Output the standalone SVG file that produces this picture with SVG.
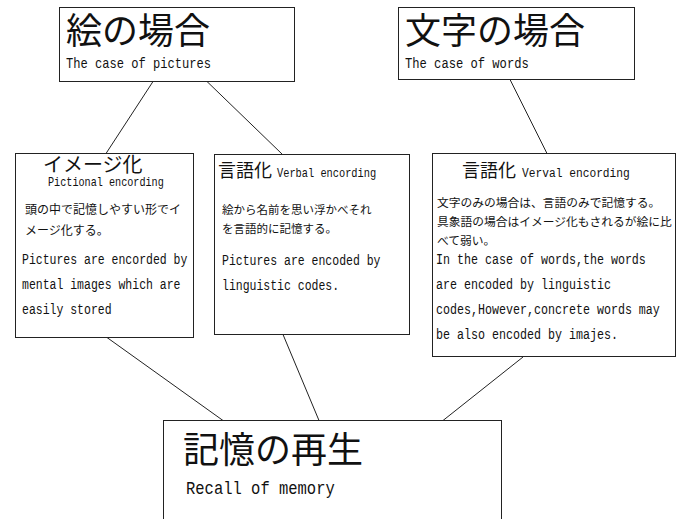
<svg xmlns="http://www.w3.org/2000/svg" width="678" height="519" viewBox="0 0 678 519">
<style>
.box{fill:#fff;stroke:#222;stroke-width:1}
.ln{stroke:#222;stroke-width:1;fill:none}
.jp{font-family:"Noto Sans CJK JP","Noto Sans CJK SC",sans-serif;fill:#111}
.en{font-family:"Liberation Mono","DejaVu Sans Mono",monospace;fill:#111}
.b{font-size:15.5px}
</style>
<rect width="678" height="519" fill="#fff"/>
<g id="connectors">
<line class="ln" x1="153" y1="81.5" x2="106" y2="153.5"/>
<line class="ln" x1="207" y1="81.5" x2="282" y2="154"/>
<line class="ln" x1="510" y1="79.5" x2="547" y2="153.5"/>
<line class="ln" x1="107" y1="337.5" x2="223" y2="420.5"/>
<line class="ln" x1="283" y1="334.5" x2="319" y2="420.5"/>
<line class="ln" x1="523" y1="357" x2="443" y2="420.5"/>
</g>
<g id="n_picture">
<rect class="box" x="59.5" y="7.5" width="235" height="74"/>
<text class="jp" x="66" y="43.5" font-size="36">絵の場合</text>
<text class="en" transform="translate(66,68) scale(0.806,1)" font-size="15">The case of pictures</text>
</g>
<g id="n_words">
<rect class="box" x="398.5" y="7.5" width="236" height="72"/>
<text class="jp" x="405" y="43.5" font-size="36">文字の場合</text>
<text class="en" transform="translate(405,68) scale(0.81,1)" font-size="15">The case of words</text>
</g>
<g id="n_image">
<rect class="box" x="15.5" y="153.5" width="178" height="184"/>
<text class="jp" x="43" y="172" font-size="20">イメージ化</text>
<text class="en" transform="translate(48,186) scale(0.814,1)" font-size="12.5">Pictional encording</text>
<text class="jp" x="25" y="214" font-size="12">頭の中で記憶しやすい形でイ</text>
<text class="jp" x="25" y="235" font-size="12">メージ化する。</text>
<text class="en b" transform="translate(22,264) scale(0.742,1)">Pictures are encorded by</text>
<text class="en b" transform="translate(22,289) scale(0.742,1)">mental images which are</text>
<text class="en b" transform="translate(22,314) scale(0.742,1)">easily stored</text>
</g>
<g id="n_verbal">
<rect class="box" x="214.5" y="154.5" width="195" height="180"/>
<text class="jp" x="218" y="177" font-size="18">言語化</text>
<text class="en" transform="translate(277,177) scale(0.795,1)" font-size="13">Verbal encording</text>
<text class="jp" x="222" y="214" font-size="11.5">絵から名前を思い浮かべそれ</text>
<text class="jp" x="222" y="233" font-size="11.5">を言語的に記憶する。</text>
<text class="en b" transform="translate(222,265) scale(0.742,1)">Pictures are encoded by</text>
<text class="en b" transform="translate(222,290) scale(0.742,1)">linguistic codes.</text>
</g>
<g id="n_verval">
<rect class="box" x="432.5" y="153.5" width="243" height="203"/>
<text class="jp" x="462" y="177" font-size="18">言語化</text>
<text class="en" transform="translate(522,177) scale(0.833,1)" font-size="13.5">Verval encording</text>
<text class="jp" x="437" y="207" font-size="11.75">文字のみの場合は、言語のみで記憶する。</text>
<text class="jp" x="437" y="226" font-size="11.75">具象語の場合はイメージ化もされるが絵に比</text>
<text class="jp" x="437" y="245" font-size="11.75">べて弱い。</text>
<text class="en b" transform="translate(436,264) scale(0.753,1)">In the case of words,the words</text>
<text class="en b" transform="translate(436,289) scale(0.753,1)">are encoded by linguistic</text>
<text class="en b" transform="translate(436,314) scale(0.753,1)">codes,However,concrete words may</text>
<text class="en b" transform="translate(436,339) scale(0.753,1)">be also encoded by imajes.</text>
</g>
<g id="n_recall">
<rect class="box" x="163.5" y="420.5" width="338" height="110"/>
<text class="jp" x="183" y="463" font-size="36">記憶の再生</text>
<text class="en" transform="translate(186,494) scale(0.816,1)" font-size="19">Recall of memory</text>
</g>
</svg>
